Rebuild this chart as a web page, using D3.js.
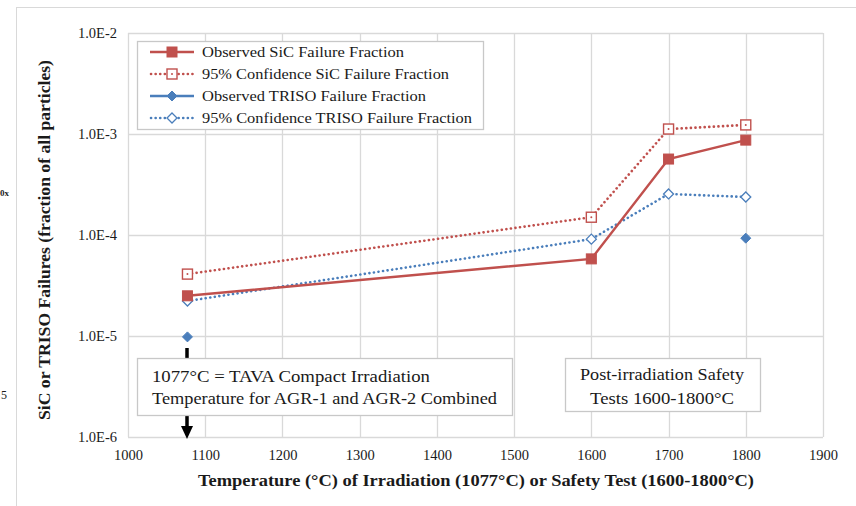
<!DOCTYPE html>
<html>
<head>
<meta charset="utf-8">
<script src="https://cdn.jsdelivr.net/npm/d3@7"></script>
<style>
  html, body { margin: 0; padding: 0; background: #fff; }
  svg { display: block; }
  svg text { font-family: "Liberation Serif", "Times New Roman", Times, "Nimbus Roman", "DejaVu Serif", serif !important; fill: #1a1a1a; }
</style>
</head>
<body>
<svg id="chart" width="856" height="506"></svg>
<script>
// Test temperatures (°C)
const temperatures = [1077, 1600, 1700, 1800];
// Failure fractions (fraction of all particles); null = no value
const sicObserved   = [2.5e-5, 5.8e-5, 5.65e-4, 8.7e-4];
const sicConfidence = [4.1e-5, 1.5e-4, 1.12e-3, 1.23e-3];
const trisoObserved   = [9.8e-6, null, null, 9.3e-5];
const trisoConfidence = [2.22e-5, 9.1e-5, 2.55e-4, 2.38e-4];

const xTicks = [1000, 1100, 1200, 1300, 1400, 1500, 1600, 1700, 1800, 1900];
const yTicks = [1e-6, 1e-5, 1e-4, 1e-3, 1e-2];
const yTickLabels = ["1.0E-6", "1.0E-5", "1.0E-4", "1.0E-3", "1.0E-2"];

const seriesNames = [
  "Observed SiC Failure Fraction",
  "95% Confidence SiC Failure Fraction",
  "Observed TRISO Failure Fraction",
  "95% Confidence TRISO Failure Fraction"
];

const RED = "#c0504d", BLUE = "#4a7ebb", GRID = "#d9d9d9";

const svg = d3.select("#chart");
const plot = { left: 128, right: 823, top: 33, bottom: 437 };

const x = d3.scaleLinear().domain([1000, 1900]).range([plot.left, plot.right]);
const y = d3.scaleLog().domain([1e-6, 1e-2]).range([plot.bottom, plot.top]);

// outer chart frame
svg.append("rect").attr("x", 16.5).attr("y", 7.5).attr("width", 900).attr("height", 600)
  .attr("fill", "none").attr("stroke", GRID).attr("stroke-width", 1);

// fragments of neighbouring content at the far left
svg.append("text").attr("x", 0).attr("y", 196).attr("font-size", 9).attr("font-weight", "bold").text("0x");
svg.append("text").attr("x", 1).attr("y", 399).attr("font-size", 12).text("5");

// gridlines
const grid = svg.append("g");
grid.selectAll("line.v").data(xTicks).join("line")
  .attr("x1", d => Math.round(x(d)) + 0.5).attr("x2", d => Math.round(x(d)) + 0.5)
  .attr("y1", plot.top).attr("y2", plot.bottom)
  .attr("stroke", GRID).attr("stroke-width", 1.3);
grid.selectAll("line.h").data(yTicks).join("line")
  .attr("y1", d => Math.round(y(d)) + 0.5).attr("y2", d => Math.round(y(d)) + 0.5)
  .attr("x1", plot.left).attr("x2", plot.right)
  .attr("stroke", GRID).attr("stroke-width", 1.3);

// axes (labels only, lines drawn as gridlines)
const xAxis = svg.append("g").attr("transform", `translate(0,${plot.bottom})`)
  .call(d3.axisBottom(x).tickValues(xTicks).tickFormat(d3.format("d")).tickSize(0).tickPadding(13));
xAxis.select(".domain").remove();
xAxis.attr("font-family", null);
xAxis.selectAll("text").attr("font-size", 14.5).attr("fill", "#1a1a1a");

const yAxis = svg.append("g").attr("transform", `translate(${plot.left},0)`)
  .call(d3.axisLeft(y).tickValues(yTicks).tickFormat((d, i) => yTickLabels[i]).tickSize(0).tickPadding(11));
yAxis.select(".domain").remove();
yAxis.attr("font-family", null);
yAxis.selectAll("text").attr("font-size", 14.5).attr("fill", "#1a1a1a");

// axis titles
svg.append("text").attr("x", 476).attr("y", 486).attr("text-anchor", "middle")
  .attr("font-size", 16).attr("font-weight", "bold")
  .attr("textLength", 556).attr("lengthAdjust", "spacingAndGlyphs")
  .text("Temperature (°C) of Irradiation  (1077°C) or Safety Test (1600-1800°C)");
svg.append("text").attr("transform", "translate(50,240) rotate(-90)").attr("text-anchor", "middle")
  .attr("font-size", 17).attr("font-weight", "bold")
  .attr("textLength", 360).attr("lengthAdjust", "spacingAndGlyphs")
  .text("SiC or TRISO Failures (fraction of all particles)");

// arrow marking the 1077°C irradiation temperature
const ax = Math.round(x(temperatures[0]));
svg.append("line").attr("x1", ax).attr("x2", ax).attr("y1", 348).attr("y2", 428)
  .attr("stroke", "#000").attr("stroke-width", 3.5);
svg.append("path").attr("d", `M${ax - 6},426 L${ax + 6},426 L${ax},439 Z`).attr("fill", "#000");

// annotation boxes
function noteBox(x0, y0, w, h, lines, anchor, tx, baselines, widths) {
  const g = svg.append("g");
  g.append("rect").attr("x", x0 + 0.5).attr("y", y0 + 0.5).attr("width", w).attr("height", h)
    .attr("fill", "#fff").attr("stroke", "#c8c8c8").attr("stroke-width", 1.3);
  lines.forEach((t, i) => g.append("text").attr("x", tx).attr("y", baselines[i])
    .attr("text-anchor", anchor).attr("font-size", 17)
    .attr("textLength", widths[i]).attr("lengthAdjust", "spacingAndGlyphs").text(t));
}
noteBox(137, 358, 375, 57,
  ["1077°C = TAVA  Compact Irradiation", "Temperature for AGR-1 and AGR-2 Combined"],
  "start", 152, [382, 404], [278, 345]);
noteBox(565, 358, 195, 53,
  ["Post-irradiation Safety", "Tests 1600-1800°C"],
  "middle", 662, [380, 404], [164, 144]);

// series
const defined = d => d.v !== null;
const pts = vals => temperatures.map((t, i) => ({ t, v: vals[i] }));
const line = d3.line().defined(defined).x(d => x(d.t)).y(d => y(d.v));

function drawSeries(vals, color, dash, width) {
  const data = pts(vals);
  svg.append("path").datum(data).attr("d", line).attr("fill", "none")
    .attr("stroke", color).attr("stroke-width", width)
    .attr("stroke-dasharray", dash).attr("stroke-linecap", dash ? "round" : "butt");
  return data.filter(defined);
}
function squareMarker(g, cx, cy, color, filled) {
  g.append("rect").attr("x", cx - 5).attr("y", cy - 5).attr("width", 10).attr("height", 10)
    .attr("fill", filled ? color : "#fff").attr("stroke", color).attr("stroke-width", filled ? 1 : 1.4);
  if (!filled) g.append("circle").attr("cx", cx).attr("cy", cy).attr("r", 1).attr("fill", color);
}
function diamondMarker(g, cx, cy, color, filled) {
  const r = 5;
  g.append("path").attr("d", `M${cx},${cy - r} L${cx + r},${cy} L${cx},${cy + r} L${cx - r},${cy} Z`)
    .attr("fill", filled ? color : "#fff").attr("stroke", color).attr("stroke-width", filled ? 1 : 1.3);
}

// TRISO series
const tc = drawSeries(trisoConfidence, BLUE, "0.1 4.5", 2.6);
const to = drawSeries(trisoObserved, BLUE, null, 2.4);
// SiC series
const sc = drawSeries(sicConfidence, RED, "0.1 4.5", 2.6);
const so = drawSeries(sicObserved, RED, null, 2.4);

const mk = svg.append("g");
tc.forEach(d => diamondMarker(mk, x(d.t), y(d.v), BLUE, false));
to.forEach(d => diamondMarker(mk, x(d.t), y(d.v), BLUE, true));
sc.forEach(d => squareMarker(mk, x(d.t), y(d.v), RED, false));
so.forEach(d => squareMarker(mk, x(d.t), y(d.v), RED, true));

// legend
const lg = svg.append("g");
lg.append("rect").attr("x", 137.5).attr("y", 41.5).attr("width", 346).attr("height", 88)
  .attr("fill", "#fff").attr("stroke", "#c8c8c8").attr("stroke-width", 1.3);
const legendItems = [
  { color: RED, dash: null, marker: squareMarker, filled: true, w: 202 },
  { color: RED, dash: "0.1 4.5", marker: squareMarker, filled: false, w: 247 },
  { color: BLUE, dash: null, marker: diamondMarker, filled: true, w: 224 },
  { color: BLUE, dash: "0.1 4.5", marker: diamondMarker, filled: false, w: 270 }
];
const legendY = [52, 74, 96, 118];
legendItems.forEach((it, i) => {
  const yy = legendY[i];
  lg.append("line").attr("x1", it.dash ? 151 : 150).attr("x2", 194).attr("y1", yy).attr("y2", yy)
    .attr("stroke", it.color).attr("stroke-width", it.dash ? 2.6 : 2.4)
    .attr("stroke-dasharray", it.dash).attr("stroke-linecap", it.dash ? "round" : "butt");
  it.marker(lg, 172, yy, it.color, it.filled);
  lg.append("text").attr("x", 202).attr("y", yy + 5).attr("font-size", 15)
    .attr("textLength", it.w).attr("lengthAdjust", "spacingAndGlyphs").text(seriesNames[i]);
});
</script>
</body>
</html>
